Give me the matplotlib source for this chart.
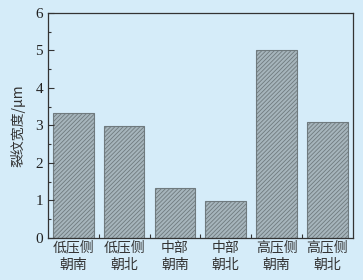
import matplotlib
matplotlib.use("Agg")
import matplotlib.pyplot as plt
import numpy as np

# data
labels = ["低压侧\n朝南", "低压侧\n朝北", "中部\n朝南", "中部\n朝北", "高压侧\n朝南", "高压侧\n朝北"]
widths = [3.33, 2.99, 1.33, 0.99, 5.0, 3.09]
yticks = [0, 1, 2, 3, 4, 5, 6]

bg = "#d5ecf9"
plt.rcParams["hatch.color"] = "#84939a"
plt.rcParams["hatch.linewidth"] = 0.6

fig = plt.figure(figsize=(3.63, 2.80), dpi=100, facecolor=bg)
ax = fig.add_axes([0.132, 0.15, 0.840, 0.804], facecolor=bg)

x = np.arange(len(labels))
ax.bar(x, widths, width=0.8, color="#a6b5bc", edgecolor="#6f7a7e",
       linewidth=0.8, hatch="////////")

ax.set_xlim(-0.5, 5.5)
ax.set_ylim(0, 6)
ax.set_yticks(yticks)
ax.set_yticklabels([str(v) for v in yticks], family="Liberation Serif", fontsize=11, color="#222222")
ax.set_yticks(np.arange(0.5, 6, 1), minor=True)
ax.set_xticks(x)
ax.set_xticklabels(labels, family=["Noto Sans CJK SC"], fontsize=10, color="#333333", linespacing=1.25)
ax.set_xticks(x[:-1] + 0.5, minor=True)

ax.tick_params(axis="x", which="major", length=0, pad=2)
ax.tick_params(axis="x", which="minor", direction="in", length=3, width=0.8, color="#333333")
ax.tick_params(axis="y", which="major", direction="in", length=4, width=0.8, color="#333333")
ax.tick_params(axis="y", which="minor", direction="in", length=2.5, width=0.8, color="#333333")
for s in ax.spines.values():
    s.set_color("#333333")
    s.set_linewidth(0.9)

ax.set_ylabel("裂纹宽度/μm", family=["Noto Sans CJK SC", "DejaVu Sans"], fontsize=10, color="#333333", labelpad=7)

fig.savefig("out.png", dpi=100, facecolor=bg)
